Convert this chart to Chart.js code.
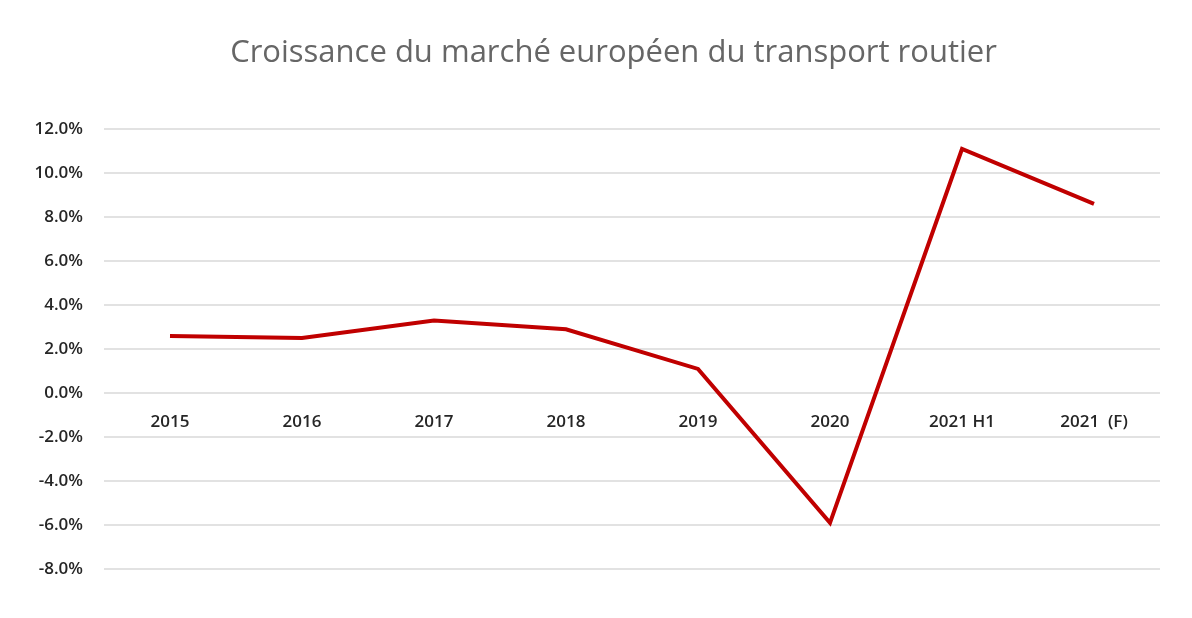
<!DOCTYPE html>
<html>
<head>
<meta charset="utf-8">
<script src="https://cdn.jsdelivr.net/npm/chart.js@4"></script>
<style>
  html, body { margin: 0; padding: 0; background: #fff; }
  #wrap { width: 1192px; height: 618px; }
</style>
</head>
<body>
<div id="wrap"><canvas id="chart" width="1192" height="618"></canvas></div>
<script>
const TITLE = 'Croissance du marché européen du transport routier';
const categories = ['2015', '2016', '2017', '2018', '2019', '2020', '2021 H1', '2021  (F)'];
const growth = [2.6, 2.5, 3.3, 2.9, 1.1, -5.9, 11.1, 8.6];

const LINE_RED = '#c00000';
const TICK_COLOR = '#262626';
const GRID_COLOR = '#e2e2e2';
const tickFont = { family: '"Open Sans", sans-serif', size: 17, weight: 600 };

// the original title sits a bit right of the canvas centre
const nudgeTitle = {
  id: 'nudgeTitle',
  afterLayout(chart) {
    if (chart.titleBlock) chart.titleBlock.left = 67;
  },
};

new Chart(document.getElementById('chart').getContext('2d'), {
  type: 'line',
  data: {
    labels: categories,
    datasets: [{
      data: growth,
      borderColor: LINE_RED,
      borderWidth: 4,
      pointRadius: 0,
      tension: 0,
      fill: false,
    }],
  },
  options: {
    responsive: false,
    animation: false,
    layout: { padding: { left: 0, right: 32, top: 0, bottom: 49 } },
    plugins: {
      legend: { display: false },
      tooltip: { enabled: false },
      title: {
        display: true,
        text: TITLE,
        color: '#666666',
        font: { family: '"Open Sans", sans-serif', size: 31, weight: 'normal' },
        padding: { top: 35, bottom: 57 },
      },
    },
    scales: {
      x: {
        position: { y: 0 },
        offset: true,
        grid: { display: false },
        border: { display: false },
        ticks: { color: TICK_COLOR, font: tickFont, padding: 11, maxRotation: 0 },
      },
      y: {
        min: -8,
        max: 12,
        grid: { color: GRID_COLOR, lineWidth: 2, drawTicks: false },
        border: { display: false },
        ticks: {
          stepSize: 2,
          color: TICK_COLOR,
          font: tickFont,
          padding: 21,
          callback: v => v.toFixed(1) + '%',
        },
        afterFit: scale => { scale.width = 104; },
      },
    },
  },
  plugins: [nudgeTitle],
});
</script>
</body>
</html>
